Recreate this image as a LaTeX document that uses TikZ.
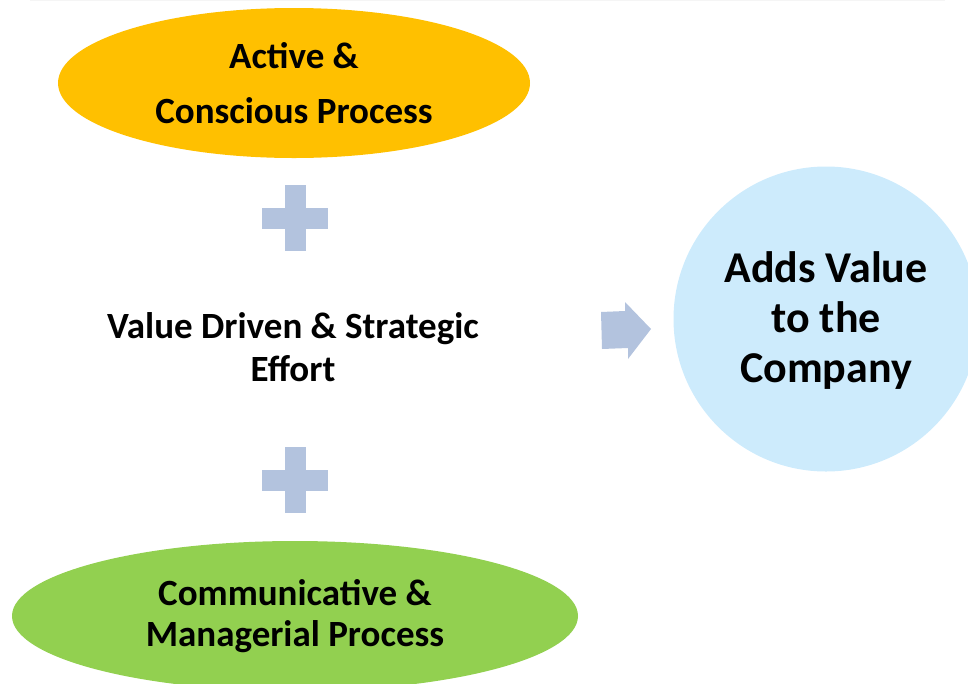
\documentclass[tikz,border=0pt]{standalone}
\usepackage{fontspec}
\setmainfont{Carlito}
\usetikzlibrary{shapes.geometric}
\definecolor{gold}{HTML}{FFC000}
\definecolor{leaf}{HTML}{92D050}
\definecolor{sky}{HTML}{CDEBFC}
\definecolor{steel}{HTML}{B3C3DE}
\definecolor{rule}{HTML}{F5F5F5}
\tikzset{
  oval/.style={ellipse, inner sep=0pt, align=center, font=\bfseries\fontsize{37}{55}\selectfont},
  plusbar/.style={fill=steel, draw=none},
}
\begin{document}
\begin{tikzpicture}[x=1pt,y=-1pt]
\useasboundingbox (0,0) rectangle (968,683);
\draw[rule, line width=1pt] (30,0.6) -- (945,0.6);
% top ellipse
\node[oval, fill=gold, minimum width=472pt, minimum height=150pt] (top) at (294,83) {Active \&\\Conscious Process};
% middle text
\node[align=center, font=\bfseries\fontsize{37}{43}\selectfont] (mid) at (293,347) {Value Driven \& Strategic\\Effort};
% bottom ellipse
\node[oval, fill=leaf, minimum width=566pt, minimum height=150pt, font=\bfseries\fontsize{37}{41}\selectfont] (bot) at (295,616) {Communicative \&\\Managerial Process};
% circle
\node[circle, fill=sky, minimum size=305pt, inner sep=0pt] (res) at (826,319) {};
\node[align=center, font=\bfseries\fontsize{44}{50}\selectfont] (restext) at (826,321) {Adds Value\\to the\\Company};
% plus signs
\coordinate (p1) at (295,218);
\coordinate (p2) at (295,480);
\foreach \p in {p1,p2}{
  \fill[plusbar] ([shift={(-10.5,-33)}]\p) rectangle ([shift={(10.5,33)}]\p);
  \fill[plusbar] ([shift={(-33,-10.5)}]\p) rectangle ([shift={(33,10.5)}]\p);
}
% arrow
\coordinate (tip) at (651,329);
\fill[steel] (601,312) -- (625,311) -- (625,302) -- (tip) -- (628,359) -- (628,348) -- (602,349) -- cycle;
\end{tikzpicture}
\end{document}
